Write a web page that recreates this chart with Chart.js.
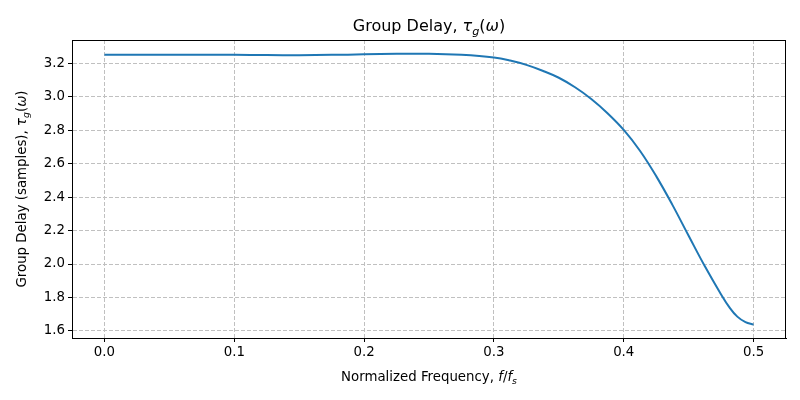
<!DOCTYPE html>
<html>
<head>
<meta charset="utf-8">
<script src="https://cdn.jsdelivr.net/npm/chart.js@4/dist/chart.umd.min.js"></script>
<style>
  body { margin: 0; background: #fff; }
</style>
</head>
<body>
<canvas id="chart" width="800" height="400"></canvas>
<script>
// normalized frequency f/fs and group delay (samples)
const freq = [0.0, 0.025, 0.05, 0.075, 0.1, 0.125, 0.15, 0.175, 0.2, 0.225, 0.25, 0.275,
  0.3, 0.3125, 0.325, 0.3375, 0.35, 0.3625, 0.375, 0.3875, 0.4, 0.4125, 0.425, 0.4375,
  0.45, 0.4625, 0.475, 0.4813, 0.4875, 0.4938, 0.5];
const delay = [3.253, 3.253, 3.253, 3.253, 3.252, 3.251, 3.250, 3.252, 3.255, 3.258, 3.259, 3.252,
  3.236, 3.218, 3.192, 3.157, 3.115, 3.058, 2.988, 2.903, 2.803, 2.678, 2.526, 2.354,
  2.169, 1.986, 1.818, 1.742, 1.685, 1.652, 1.637];

const xTicks = [0.0, 0.1, 0.2, 0.3, 0.4, 0.5];
const yTicks = [1.6, 1.8, 2.0, 2.2, 2.4, 2.6, 2.8, 3.0, 3.2];

const FONT = "'DejaVu Sans', sans-serif";

// draws a line of text made of pieces (italic / subscript), like matplotlib mathtext
function drawRich(ctx, parts, cx, cy, size, rotate) {
  ctx.save();
  ctx.translate(cx, cy);
  if (rotate) ctx.rotate(-Math.PI / 2);
  let total = 0;
  const widths = parts.map(p => {
    const s = p.sub ? size * 0.7 : size;
    ctx.font = (p.it ? 'italic ' : '') + s + 'px ' + FONT;
    const w = ctx.measureText(p.t).width;
    total += w;
    return w;
  });
  let x = -total / 2;
  ctx.fillStyle = '#000';
  ctx.textBaseline = 'alphabetic';
  ctx.textAlign = 'left';
  parts.forEach((p, i) => {
    const s = p.sub ? size * 0.7 : size;
    ctx.font = (p.it ? 'italic ' : '') + s + 'px ' + FONT;
    ctx.fillText(p.t, x, p.sub ? size * 0.22 : 0);
    x += widths[i];
  });
  ctx.restore();
}

const labelsPlugin = {
  id: 'labels',
  afterDraw(chart) {
    const { ctx, chartArea: a } = chart;
    // full frame like matplotlib spines
    ctx.save();
    ctx.strokeStyle = '#000';
    ctx.lineWidth = 1;
    ctx.strokeRect(a.left + 0.5, a.top + 0.5, a.right - a.left - 1, a.bottom - a.top);
    ctx.restore();

    const cx = (a.left + a.right) / 2;
    drawRich(ctx, [
      { t: 'Group Delay, ' }, { t: 'τ', it: true }, { t: 'g', it: true, sub: true },
      { t: '(' }, { t: 'ω', it: true }, { t: ')' }
    ], cx, 31, 16);
    drawRich(ctx, [
      { t: 'Normalized Frequency, ' }, { t: 'f', it: true }, { t: '/' },
      { t: 'f', it: true }, { t: 's', it: true, sub: true }
    ], cx, 381, 13.33);
    drawRich(ctx, [
      { t: 'Group Delay (samples), ' }, { t: 'τ', it: true }, { t: 'g', it: true, sub: true },
      { t: '(' }, { t: 'ω', it: true }, { t: ')' }
    ], 26, (a.top + a.bottom) / 2, 13.33, true);
  }
};

const gridOpts = {
  color: '#c0c0c0',
  lineWidth: 1,
  drawTicks: true,
  tickLength: 4,
  tickColor: '#000',
  tickWidth: 1
};

const ctx = document.getElementById('chart').getContext('2d');
new Chart(ctx, {
  type: 'line',
  data: {
    datasets: [{
      data: freq.map((f, i) => ({ x: f, y: delay[i] })),
      borderColor: '#1f77b4',
      borderWidth: 2,
      pointRadius: 0,
      fill: false,
      tension: 0.4
    }]
  },
  options: {
    responsive: false,
    animation: false,
    layout: { padding: { top: 40, right: 14, bottom: 0, left: 0 } },
    plugins: {
      legend: { display: false },
      tooltip: { enabled: false },
      title: { display: false }
    },
    scales: {
      x: {
        type: 'linear',
        min: -0.025,
        max: 0.525,
        afterBuildTicks: s => { s.ticks = xTicks.map(v => ({ value: v })); },
        afterFit: s => { s.height = 62; },
        grid: gridOpts,
        border: { display: true, color: '#000', width: 1, dash: [4, 2] },
        ticks: {
          padding: 3,
          color: '#000',
          maxRotation: 0,
          font: { family: FONT, size: 13.33 },
          callback: v => v.toFixed(1)
        }
      },
      y: {
        type: 'linear',
        min: 1.557,
        max: 3.341,
        afterBuildTicks: s => { s.ticks = yTicks.map(v => ({ value: v })); },
        afterFit: s => { s.width = 72; },
        grid: gridOpts,
        border: { display: true, color: '#000', width: 1, dash: [4, 2] },
        ticks: {
          padding: 3,
          color: '#000',
          font: { family: FONT, size: 13.33 },
          callback: v => v.toFixed(1)
        }
      }
    }
  },
  plugins: [labelsPlugin]
});
</script>
</body>
</html>
